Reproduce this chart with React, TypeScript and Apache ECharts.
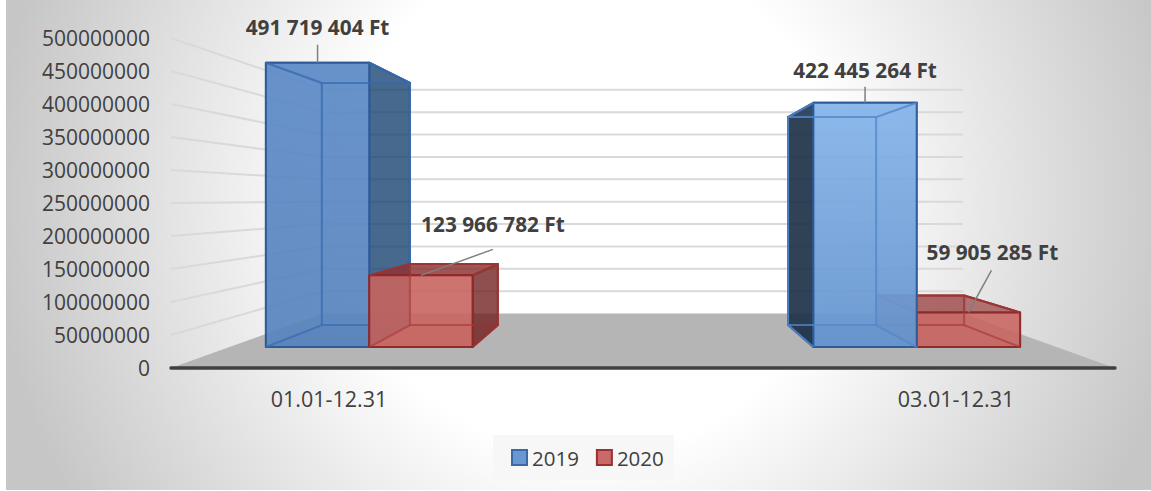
import React, { useEffect, useRef } from "react";
import * as echarts from "echarts";

const categories = ["01.01-12.31", "03.01-12.31"];
const seriesNames = ["2019", "2020"];
const values2019 = [491719404, 422445264];
const values2020 = [123966782, 59905285];
const yTicks = [0, 50000000, 100000000, 150000000, 200000000, 250000000, 300000000, 350000000, 400000000, 450000000, 500000000];

// Perspective box model
const VP_X = 643;
const VP_Y = 199;
const S_FRONT = 0.876;
const S_BACK = 0.746;
const S_WALL = 0.678;
const WORLD_CENTER = 312.5;
const WORLD_BAR = 118;
const WORLD_HALF = 472;

const px = (wx: number, s: number) => VP_X + wx * s;
const py = (yv: number, s: number) => VP_Y + (yv - VP_Y) * s;

const fmtFt = (v: number) => String(v).replace(/\B(?=(\d{3})+(?!\d))/g, " ") + " Ft";

const TEXT = "#404040";
const FONT = "Open Sans";

const labelLayout: Record<string, number[][]> = {
  "2019": [[0, -18, 0, -36], [0, -16, 0, -33]],
  "2020": [[72, -26, 72, -51], [23, -42, 24, -60]],
};

const grad = (a: string, b: string) =>
  new echarts.graphic.LinearGradient(0, 0, 0, 1, [
    { offset: 0, color: a },
    { offset: 1, color: b },
  ]);

const palette: Record<string, any> = {
  "2019": {
    stroke: ["rgba(42,90,150,0.95)", "rgba(42,90,150,0.95)"],
    inner: ["rgba(60,110,178,0.75)", "rgba(85,135,200,0.75)"],
    front: [
      () => grad("rgba(92,138,198,0.92)", "rgba(88,132,190,0.92)"),
      () => grad("rgba(134,180,234,0.93)", "rgba(100,148,206,0.93)"),
    ],
    back: ["rgba(79,129,189,0.1)", "rgba(110,160,220,0.1)"],
    near: ["rgba(79,129,189,0.05)", "rgba(110,160,220,0.05)"],
    outer: ["rgba(30,70,115,0.8)", "rgba(30,50,72,0.92)"],
    top: ["rgba(60,110,170,0.1)", "rgba(110,160,220,0.1)"],
    bottom: ["rgba(50,90,150,0.35)", "rgba(40,80,140,0.35)"],
  },
  "2020": {
    stroke: ["rgba(140,40,40,0.95)", "rgba(140,40,40,0.95)"],
    inner: ["rgba(165,60,60,0.6)", "rgba(165,60,60,0.6)"],
    front: [() => "rgba(202,100,96,0.88)", () => "rgba(202,100,96,0.86)"],
    back: ["rgba(150,60,60,0.15)", "rgba(150,60,60,0.3)"],
    near: ["rgba(170,60,60,0.08)", "rgba(170,60,60,0.1)"],
    outer: ["rgba(110,30,30,0.75)", "rgba(120,50,60,0.45)"],
    top: ["rgba(140,50,50,0.8)", "rgba(150,60,60,0.65)"],
    bottom: ["rgba(170,60,60,0.25)", "rgba(170,60,60,0.25)"],
  },
};

function barRenderer(name: string, seriesIdx: number) {
  return (_p: any, api: any) => {
    const cat = api.value(0);
    const v = api.value(1);
    const sign = cat === 0 ? -1 : 1;
    const c = palette[name];
    const yTop = api.coord([cat, v])[1];
    const yBase = api.coord([cat, 0])[1];
    const center = sign * WORLD_CENTER + (seriesIdx === 0 ? -0.5 : 0.5) * WORLD_BAR;
    const xl = center - WORLD_BAR / 2;
    const xr = center + WORLD_BAR / 2;
    const P = (wx: number, y: number, s: number) => [px(wx, s), py(y, s)];
    const FTL = P(xl, yTop, S_FRONT);
    const FTR = P(xr, yTop, S_FRONT);
    const FBL = P(xl, yBase, S_FRONT);
    const FBR = P(xr, yBase, S_FRONT);
    const BTL = P(xl, yTop, S_BACK);
    const BTR = P(xr, yTop, S_BACK);
    const BBL = P(xl, yBase, S_BACK);
    const BBR = P(xr, yBase, S_BACK);
    // blue in front on the right-hand pair, red in front on the left-hand pair
    const baseZ = (cat === 0) === (seriesIdx === 1) ? 20 : 10;
    const face = (points: number[][], fill: any, stroke: string, z: number, lw = 2) => ({
      type: "polygon",
      z2: baseZ + z,
      shape: { points },
      style: { fill, stroke, lineWidth: lw, lineJoin: "round" },
    });
    const edge = (a: number[], b: number[]) => ({
      type: "line",
      z2: baseZ + 4,
      shape: { x1: a[0], y1: a[1], x2: b[0], y2: b[1] },
      style: { stroke: c.inner[cat], lineWidth: 2 },
    });
    const leftFace = [FTL, BTL, BBL, FBL];
    const rightFace = [FTR, BTR, BBR, FBR];
    const outerIsRight = cat === 0;
    const children: any[] = [
      face([BTL, BTR, BBR, BBL], c.back[cat], c.inner[cat], 0),
      face([FBL, FBR, BBR, BBL], c.bottom[cat], c.inner[cat], 1),
      face(outerIsRight ? leftFace : rightFace, c.near[cat], c.inner[cat], 2),
      face(outerIsRight ? rightFace : leftFace, c.outer[cat], c.stroke[cat], 3),
      face([FTL, FTR, BTR, BTL], c.top[cat], c.stroke[cat], 4),
      face([FTL, FTR, FBR, FBL], c.front[cat](), c.stroke[cat], 5, 2),
      { ...edge(BTL, BBL), z2: baseZ + 6 },
      { ...edge(BTR, BBR), z2: baseZ + 6 },
      { ...edge(BBL, BBR), z2: baseZ + 6 },
      { ...edge(BTL, BTR), z2: baseZ + 6 },
      { ...edge(FBL, BBL), z2: baseZ + 6 },
      { ...edge(FBR, BBR), z2: baseZ + 6 },
      { ...edge(FTL, BTL), z2: baseZ + 6 },
      { ...edge(FTR, BTR), z2: baseZ + 6 },
    ];
    const ax = (FTL[0] + FTR[0]) / 2;
    const ay = FTL[1];
    const [ldx, ldy, tdx, tdy] = labelLayout[name][cat];
    children.push({
      type: "line",
      z2: 60,
      shape: { x1: ax, y1: ay, x2: ax + ldx, y2: ay + ldy },
      style: { stroke: "#7f7f7f", lineWidth: 1.5 },
    });
    children.push({
      type: "text",
      z2: 61,
      style: {
        x: ax + tdx,
        y: ay + tdy,
        text: fmtFt(v),
        align: "center",
        verticalAlign: "middle",
        fontFamily: FONT,
        fontWeight: "bold",
        fontSize: 20.8,
        fill: TEXT,
      },
    });
    return { type: "group", children };
  };
}

function wallRenderer(_p: any, api: any) {
  const v = api.value(1);
  const y = api.coord([0, v])[1];
  const l = px(-WORLD_HALF, 1);
  const r = px(WORLD_HALF, 1);
  const bl = px(-WORLD_HALF, S_WALL);
  const br = px(WORLD_HALF, S_WALL);
  const by = py(y, S_WALL);
  if (v === 0) {
    return {
      type: "group",
      children: [
        {
          type: "polygon",
          z2: 0,
          shape: { points: [[l, y], [bl, by], [br, by], [r, y]] },
          style: { fill: "#b5b5b5" },
        },
        {
          type: "line",
          z2: 2,
          shape: { x1: l, y1: y, x2: r, y2: y },
          style: { stroke: "#404040", lineWidth: 3.5, lineCap: "round" },
        },
      ],
    };
  }
  return {
    type: "polyline",
    z2: 1,
    shape: { points: [[l, y], [bl, by], [br, by]] },
    style: { stroke: "#d9d9d9", lineWidth: 2, fill: "none" },
  };
}

export default function App() {
  const ref = useRef<HTMLDivElement>(null);
  useEffect(() => {
    const chart = echarts.init(ref.current!, undefined, { renderer: "svg" });
    chart.setOption({
      animation: false,
      backgroundColor: "#ffffff",
      textStyle: { fontFamily: FONT },
      graphic: [
        {
          type: "rect",
          z: -10,
          shape: { x: 6, y: 0, width: 1145, height: 490 },
          silent: true,
          style: {
            fill: new echarts.graphic.RadialGradient(590, 200, 600, [
              { offset: 0, color: "#ffffff" },
              { offset: 0.42, color: "#ffffff" },
              { offset: 1, color: "#c6c6c6" },
            ], true),
          },
        },
      ],
      grid: { left: 329, width: 627, top: 38, height: 330, containLabel: false },
      xAxis: {
        type: "category",
        boundaryGap: false,
        data: categories,
        axisLine: { show: false },
        axisTick: { show: false },
        splitLine: { show: false },
        axisLabel: { color: TEXT, fontSize: 21.5, margin: 19, fontFamily: FONT },
      },
      yAxis: {
        type: "value",
        min: 0,
        max: 500000000,
        interval: 50000000,
        offset: 158,
        axisLine: { show: false },
        axisTick: { show: false },
        splitLine: { show: false },
        axisLabel: {
          color: TEXT,
          fontSize: 21,
          margin: 21,
          fontFamily: FONT,
          formatter: (v: number) => String(v),
        },
      },
      legend: {
        data: [
          { name: seriesNames[0], itemStyle: { color: "#6a97cf", borderColor: "#3a6aa5", borderWidth: 2 } },
          { name: seriesNames[1], itemStyle: { color: "#c9696a", borderColor: "#983232", borderWidth: 2 } },
        ],
        left: 493,
        top: 435,
        orient: "horizontal",
        icon: "rect",
        itemWidth: 15,
        itemHeight: 15,
        itemGap: 17,
        padding: [12, 10, 12, 18],
        backgroundColor: "#f7f7f7",
        textStyle: { color: TEXT, fontSize: 20.5, fontFamily: FONT },
      },
      series: [
        {
          name: "walls",
          type: "custom",
          coordinateSystem: "cartesian2d",
          clip: false,
          silent: true,
          z: 1,
          renderItem: wallRenderer,
          encode: { x: 0, y: 1 },
          data: yTicks.map((t) => [0, t]),
        },
        {
          name: seriesNames[0],
          type: "custom",
          coordinateSystem: "cartesian2d",
          clip: false,
          silent: true,
          z: 2,
          itemStyle: { color: "#6a97cf" },
          renderItem: barRenderer(seriesNames[0], 0),
          encode: { x: 0, y: 1 },
          data: values2019.map((v, i) => [i, v]),
        },
        {
          name: seriesNames[1],
          type: "custom",
          coordinateSystem: "cartesian2d",
          clip: false,
          silent: true,
          z: 2,
          itemStyle: { color: "#c9696a" },
          renderItem: barRenderer(seriesNames[1], 1),
          encode: { x: 0, y: 1 },
          data: values2020.map((v, i) => [i, v]),
        },
      ],
    });
    return () => chart.dispose();
  }, []);
  return <div ref={ref} style={{ position: "absolute", left: 0, top: 0, width: 1151, height: 491 }} />;
}
